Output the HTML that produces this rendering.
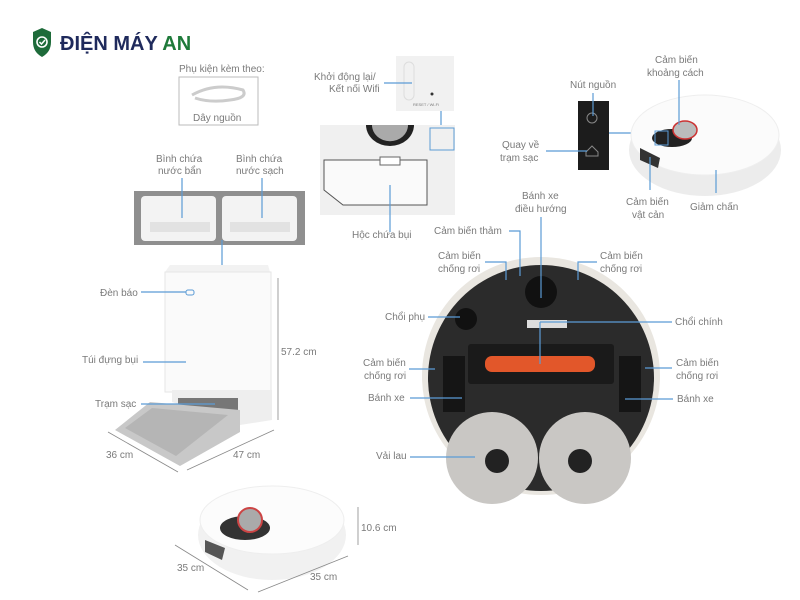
<!DOCTYPE html>
<html><head><meta charset="utf-8"><style>
html,body{margin:0;padding:0;background:#fff;}
svg{display:block}
text{font-family:"Liberation Sans",sans-serif;font-size:10px;fill:#7a7a7a}
.l{stroke:#5b9bd5;stroke-width:1.2;fill:none}
.d{stroke:#888;stroke-width:0.8;fill:none}
</style></head><body>
<svg width="800" height="600" viewBox="0 0 800 600" xmlns="http://www.w3.org/2000/svg">
<!-- logo -->
<path d="M33 32 L42 28 L51 32 L51 42 Q51 52 42 57 Q33 52 33 42 Z" fill="#1e6b3a"/>
<circle cx="42" cy="42" r="5" fill="none" stroke="#fff" stroke-width="1.6"/>
<path d="M39.5 42 L41.5 44 L45 40" stroke="#fff" stroke-width="1.5" fill="none"/>
<text x="60" y="50" style="font-size:20px;font-weight:bold;fill:#1f2a5c">ĐIỆN MÁY <tspan style="fill:#1e7a3a">AN</tspan></text>

<!-- accessory -->
<text x="179" y="72">Phụ kiện kèm theo:</text>
<rect x="179" y="77" width="79" height="48" fill="#fff" stroke="#bbb"/>
<path d="M192 95 Q215 82 243 90 Q248 98 230 100 Q210 103 195 98" stroke="#ccc" stroke-width="3" fill="none"/>
<text x="193" y="121">Dây nguồn</text>

<!-- water tank panel -->
<rect x="134" y="191" width="171" height="54" fill="#8f8f8f"/>
<rect x="141" y="196" width="75" height="45" rx="4" fill="#f3f3f3"/>
<rect x="222" y="196" width="75" height="45" rx="4" fill="#f3f3f3"/>
<rect x="150" y="222" width="60" height="10" fill="#e2e2e2"/>
<rect x="230" y="222" width="60" height="10" fill="#e2e2e2"/>
<text x="156" y="162">Bình chứa</text><text x="158" y="174">nước bẩn</text>
<text x="236" y="162">Bình chứa</text><text x="236" y="174">nước sạch</text>
<path class="l" d="M182 178 V218 M262 178 V218 M222 240 V276"/>

<!-- station -->
<path d="M165 272 L170 265 L268 265 L270 272 Z" fill="#f2f2f2"/>
<rect x="165" y="272" width="106" height="120" fill="#fafafa" stroke="#e6e6e6"/>
<path d="M172 390 L272 390 L272 420 L240 425 L172 402 Z" fill="#eee"/>
<rect x="178" y="398" width="60" height="20" fill="#777"/>
<path d="M115 430 L150 402 L240 410 L240 432 L180 466 Z" fill="#c8c8c8"/>
<path d="M125 428 L152 408 L228 415 L176 456 Z" fill="#b5b5b5"/>
<rect x="186" y="290" width="8" height="5" rx="2" fill="none" stroke="#5b9bd5"/>
<text x="100" y="296">Đèn báo</text><path class="l" d="M141 292 H186"/>
<text x="82" y="363">Túi đựng bụi</text><path class="l" d="M143 362 H186"/>
<text x="95" y="407">Trạm sạc</text><path class="l" d="M141 404 H215"/>
<path class="d" d="M278 278 V420"/><text x="281" y="355">57.2 cm</text>
<path class="d" d="M108 432 L178 472 M187 470 L274 430"/>
<text x="106" y="458">36 cm</text><text x="233" y="458">47 cm</text>

<!-- bottom robot -->
<ellipse cx="272" cy="535" rx="74" ry="45" fill="#f1f1f1"/>
<ellipse cx="272" cy="520" rx="72" ry="34" fill="#fcfcfc" stroke="#eee"/>
<ellipse cx="245" cy="528" rx="25" ry="12" fill="#333"/>
<circle cx="250" cy="520" r="12" fill="#aaa" stroke="#c44" stroke-width="2"/>
<path d="M205 540 L225 548 L222 560 L205 552 Z" fill="#555"/>
<path class="d" d="M358 507 V545"/><text x="361" y="531">10.6 cm</text>
<path class="d" d="M175 545 L248 590 M258 592 L348 556"/>
<text x="177" y="571">35 cm</text><text x="310" y="580">35 cm</text>

<!-- wifi panel -->
<rect x="396" y="56" width="58" height="55" fill="#f1f1f1"/>
<rect x="404" y="62" width="10" height="38" rx="5" fill="none" stroke="#ddd"/>
<circle cx="432" cy="94" r="1.5" fill="#333"/>
<text x="413" y="106" style="font-size:4px">RESET / Wi-Fi</text>
<text x="314" y="80">Khởi động lại/</text><text x="329" y="92">Kết nối Wifi</text>
<path class="l" d="M384 83 H412 M441 111 V128"/>
<!-- dock detail -->
<rect x="320" y="125" width="135" height="90" fill="#f0f0f0"/>
<path d="M366 125 A16 14 0 0 0 414 125 Z" fill="#222"/><path d="M372 125 A10 9 0 0 0 408 125 Z" fill="#aaa"/>
<path d="M324 160 H427 V205 H343 L324 190 Z" fill="#fafafa" stroke="#555"/>
<rect x="380" y="157" width="20" height="8" fill="#fff" stroke="#666"/>
<rect x="430" y="128" width="24" height="22" fill="none" stroke="#5b9bd5"/>
<path class="l" d="M390 185 V232"/><text x="352" y="238">Hộc chứa bụi</text>

<!-- black device -->
<rect x="578" y="101" width="31" height="69" fill="#1c1c1c"/>
<circle cx="592" cy="118" r="5" fill="none" stroke="#888"/>
<path d="M586 152 L592 146 L598 152 V156 H586 Z" fill="none" stroke="#888"/>
<text x="570" y="88">Nút nguồn</text><path class="l" d="M593 93 V116"/>
<text x="502" y="148">Quay về</text><text x="500" y="161">trạm sạc</text>
<path class="l" d="M546 151 H587 M609 133 H656"/>
<!-- top right robot -->
<ellipse cx="705" cy="150" rx="76" ry="46" fill="#ececec"/>
<ellipse cx="705" cy="135" rx="74" ry="40" fill="#fbfbfb" stroke="#eee"/>
<ellipse cx="672" cy="138" rx="20" ry="9" fill="#222"/>
<ellipse cx="685" cy="130" rx="12" ry="9" fill="#bbb" stroke="#c33" stroke-width="1.5"/>
<rect x="655" y="131" width="13" height="14" fill="none" stroke="#5b9bd5"/>
<path d="M640 148 L660 158 L658 168 L640 160 Z" fill="#333"/>
<text x="655" y="63">Cảm biến</text><text x="647" y="76">khoảng cách</text>
<path class="l" d="M679 80 V125 M650 157 V190 M716 170 V193"/>
<text x="626" y="205">Cảm biến</text><text x="632" y="218">vật cản</text>
<text x="690" y="210">Giảm chấn</text>

<!-- main robot bottom view -->
<circle cx="541" cy="376" r="119" fill="#e9e6e0"/>
<circle cx="541" cy="378" r="113" fill="#2b2b2b"/>
<circle cx="541" cy="292" r="16" fill="#111"/>
<rect x="468" y="344" width="146" height="40" rx="3" fill="#1a1a1a"/>
<rect x="485" y="356" width="110" height="16" rx="7" fill="#e2572a"/>
<rect x="527" y="320" width="40" height="8" fill="#ddd"/>
<circle cx="466" cy="319" r="11" fill="#111"/>
<rect x="443" y="356" width="22" height="56" fill="#151515"/>
<rect x="619" y="356" width="22" height="56" fill="#151515"/>
<circle cx="492" cy="458" r="46" fill="#c9c7c4"/>
<circle cx="585" cy="458" r="46" fill="#c9c7c4"/>
<circle cx="497" cy="461" r="12" fill="#222"/>
<circle cx="580" cy="461" r="12" fill="#222"/>
<text x="522" y="199">Bánh xe</text><text x="515" y="212">điều hướng</text>
<path class="l" d="M541 217 V298"/>
<text x="434" y="234">Cảm biến thảm</text><path class="l" d="M509 231 H520 V276"/>
<text x="438" y="259">Cảm biến</text><text x="438" y="272">chống rơi</text><path class="l" d="M485 262 H506 V280"/>
<text x="600" y="259">Cảm biến</text><text x="600" y="272">chống rơi</text><path class="l" d="M597 262 H578 V280"/>
<text x="385" y="320">Chổi phụ</text><path class="l" d="M428 317 H460"/>
<text x="675" y="325">Chổi chính</text><path class="l" d="M540 322 H672 M540 322 V364"/>
<text x="363" y="366">Cảm biến</text><text x="364" y="379">chống rơi</text><path class="l" d="M409 369 H435"/>
<text x="676" y="366">Cảm biến</text><text x="676" y="379">chống rơi</text><path class="l" d="M645 368 H672"/>
<text x="368" y="401">Bánh xe</text><path class="l" d="M410 398 H462"/>
<text x="677" y="402">Bánh xe</text><path class="l" d="M625 399 H673"/>
<text x="376" y="459">Vải lau</text><path class="l" d="M410 457 H475"/>
</svg>
</body></html>
